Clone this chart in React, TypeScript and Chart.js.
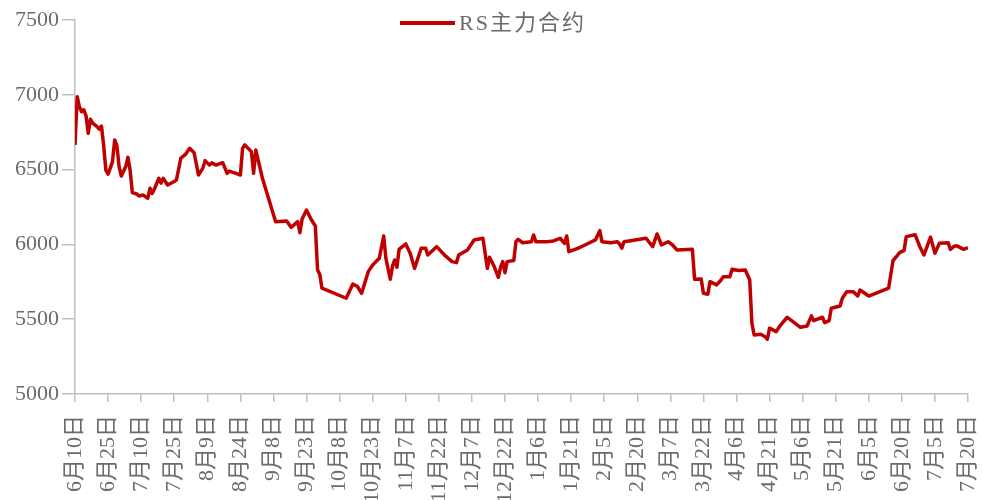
import React, { useEffect, useRef } from "react";
import { Chart, registerables } from "chart.js";

Chart.register(...registerables);

const seriesName = "RS主力合约";

const dates: string[] = [
  "2022-06-10", "2022-06-11", "2022-06-12", "2022-06-13", "2022-06-14", "2022-06-15", "2022-06-16", "2022-06-17", "2022-06-18",
  "2022-06-20", "2022-06-21", "2022-06-22", "2022-06-23", "2022-06-24", "2022-06-25", "2022-06-26", "2022-06-27", "2022-06-28",
  "2022-06-29", "2022-06-30", "2022-07-01", "2022-07-03", "2022-07-04", "2022-07-05", "2022-07-06", "2022-07-08", "2022-07-09",
  "2022-07-11", "2022-07-13", "2022-07-14", "2022-07-15", "2022-07-16", "2022-07-18", "2022-07-19", "2022-07-20", "2022-07-22",
  "2022-07-25", "2022-07-26", "2022-07-28", "2022-07-30", "2022-08-01", "2022-08-03", "2022-08-05", "2022-08-07", "2022-08-08",
  "2022-08-10", "2022-08-11", "2022-08-13", "2022-08-16", "2022-08-18", "2022-08-19", "2022-08-22", "2022-08-24", "2022-08-25",
  "2022-08-26", "2022-08-29", "2022-08-30", "2022-08-31", "2022-09-03", "2022-09-09", "2022-09-14", "2022-09-16", "2022-09-19",
  "2022-09-20", "2022-09-21", "2022-09-23", "2022-09-25", "2022-09-27", "2022-09-28", "2022-09-29", "2022-09-30", "2022-10-11",
  "2022-10-14", "2022-10-16", "2022-10-18", "2022-10-21", "2022-10-23", "2022-10-26", "2022-10-28", "2022-10-29", "2022-10-31",
  "2022-11-01", "2022-11-02", "2022-11-03", "2022-11-04", "2022-11-07", "2022-11-09", "2022-11-11", "2022-11-14", "2022-11-16",
  "2022-11-17", "2022-11-21", "2022-11-25", "2022-11-28", "2022-11-30", "2022-12-01", "2022-12-05", "2022-12-08", "2022-12-12",
  "2022-12-14", "2022-12-15", "2022-12-17", "2022-12-19", "2022-12-20", "2022-12-21", "2022-12-22", "2022-12-23", "2022-12-26",
  "2022-12-27", "2022-12-28", "2022-12-30", "2023-01-03", "2023-01-04", "2023-01-05", "2023-01-10", "2023-01-13", "2023-01-16",
  "2023-01-18", "2023-01-19", "2023-01-20", "2023-01-24", "2023-01-28", "2023-02-01", "2023-02-03", "2023-02-04", "2023-02-08",
  "2023-02-11", "2023-02-12", "2023-02-13", "2023-02-14", "2023-02-17", "2023-02-19", "2023-02-24", "2023-02-27", "2023-03-01",
  "2023-03-03", "2023-03-06", "2023-03-08", "2023-03-10", "2023-03-17", "2023-03-18", "2023-03-21", "2023-03-22", "2023-03-24",
  "2023-03-25", "2023-03-28", "2023-03-30", "2023-03-31", "2023-04-03", "2023-04-04", "2023-04-07", "2023-04-10", "2023-04-12",
  "2023-04-13", "2023-04-14", "2023-04-17", "2023-04-19", "2023-04-20", "2023-04-21", "2023-04-24", "2023-04-26", "2023-04-29",
  "2023-05-01", "2023-05-05", "2023-05-08", "2023-05-10", "2023-05-11", "2023-05-15", "2023-05-16", "2023-05-18", "2023-05-19",
  "2023-05-23", "2023-05-24", "2023-05-26", "2023-05-29", "2023-05-31", "2023-06-01", "2023-06-05", "2023-06-14", "2023-06-16",
  "2023-06-19", "2023-06-21", "2023-06-22", "2023-06-26", "2023-06-28", "2023-06-30", "2023-07-03", "2023-07-05", "2023-07-07",
  "2023-07-11", "2023-07-12", "2023-07-14", "2023-07-15", "2023-07-18", "2023-07-20",
];

const prices: number[] = [
  6665, 6987, 6920, 6887, 6900, 6860, 6743, 6836, 6810,
  6787, 6770, 6791, 6660, 6497, 6470, 6510, 6553, 6698,
  6660, 6520, 6457, 6520, 6582, 6497, 6346, 6337, 6324,
  6330, 6308, 6375, 6340, 6370, 6442, 6410, 6442, 6397,
  6420, 6431, 6576, 6600, 6642, 6613, 6464, 6510, 6560,
  6530, 6545, 6530, 6546, 6475, 6490, 6475, 6464, 6642,
  6665, 6620, 6475, 6631, 6442, 6152, 6157, 6114, 6152,
  6078, 6170, 6230, 6170, 6123, 5829, 5800, 5707, 5640,
  5735, 5720, 5673, 5818, 5862, 5907, 6056, 5907, 5767,
  5856, 5896, 5847, 5967, 6003, 5941, 5840, 5974, 5974,
  5929, 5985, 5923, 5885, 5878, 5929, 5963, 6030, 6041,
  5840, 5914, 5856, 5780, 5847, 5885, 5811, 5885, 5892,
  6020, 6034, 6011, 6018, 6063, 6018, 6018, 6023, 6041,
  6007, 6056, 5951, 5974, 6001, 6030, 6092, 6018, 6011,
  6018, 6003, 5974, 6018, 6025, 6030, 6041, 5985, 6070,
  5996, 6018, 5996, 5963, 5967, 5767, 5769, 5673, 5667,
  5751, 5729, 5762, 5784, 5784, 5834, 5825, 5829, 5762,
  5473, 5395, 5399, 5383, 5366, 5440, 5417, 5461, 5513,
  5490, 5446, 5455, 5522, 5490, 5513, 5477, 5490, 5573,
  5588, 5640, 5684, 5684, 5655, 5695, 5655, 5707, 5892,
  5945, 5960, 6052, 6065, 5990, 5929, 6048, 5941, 6007,
  6011, 5967, 5990, 5990, 5967, 5978,
];

const tickLabels: string[] = [
  "6月10日", "6月25日", "7月10日", "7月25日", "8月9日", "8月24日", "9月8日",
  "9月23日", "10月8日", "10月23日", "11月7日", "11月22日", "12月7日", "12月22日",
  "1月6日", "1月21日", "2月5日", "2月20日", "3月7日", "3月22日", "4月6日",
  "4月21日", "5月6日", "5月21日", "6月5日", "6月20日", "7月5日", "7月20日",
];

const yTicks: number[] = [5000, 5500, 6000, 6500, 7000, 7500];

const DAY = 86400000;
const FONT = "'Liberation Serif', 'Times New Roman', 'Noto Sans CJK SC', serif";
const TEXT_COLOR = "#6b6b6b";
const AXIS_COLOR = "#BFBFBF";
const LINE_COLOR = "#C00000";

const legendPlugin = {
  id: "topLegend",
  afterDraw(chart: any) {
    const ctx = chart.ctx;
    const label = chart.data.datasets[0].label;
    ctx.save();
    ctx.font = `22px ${FONT}`;
    try {
      (ctx as any).letterSpacing = "2px";
    } catch (e) {}
    const x0 = 400;
    const lineW = 55;
    const gap = 4;
    const y = 23;
    ctx.strokeStyle = LINE_COLOR;
    ctx.lineWidth = 4;
    ctx.beginPath();
    ctx.moveTo(x0, y);
    ctx.lineTo(x0 + lineW, y);
    ctx.stroke();
    ctx.fillStyle = TEXT_COLOR;
    ctx.textBaseline = "middle";
    ctx.textAlign = "left";
    ctx.fillText(label, x0 + lineW + gap, y + 1);
    ctx.restore();
  },
};

export default function App() {
  const ref = useRef<HTMLCanvasElement | null>(null);

  useEffect(() => {
    if (!ref.current) return;
    const t0 = Date.parse(dates[0]);
    const points = dates.map((d, i) => ({
      x: Math.round((Date.parse(d) - t0) / DAY),
      y: prices[i],
    }));
    const maxDay = (tickLabels.length - 1) * 15;

    const chart = new Chart(ref.current, {
      type: "line",
      data: {
        datasets: [
          {
            label: seriesName,
            data: points,
            borderColor: LINE_COLOR,
            backgroundColor: LINE_COLOR,
            borderWidth: 3.5,
            pointRadius: 0,
            tension: 0,
            borderJoinStyle: "round",
          },
        ],
      },
      options: {
        animation: false,
        responsive: false,
        maintainAspectRatio: false,
        layout: { padding: { top: 20, right: 14, left: 0, bottom: 0 } },
        plugins: {
          legend: { display: false },
          tooltip: { enabled: false },
        },
        scales: {
          x: {
            type: "linear",
            min: 0,
            max: maxDay,
            afterFit: (scale: any) => {
              scale.height = 106;
              scale.paddingRight = 0;
              scale.paddingLeft = 0;
            },
            afterBuildTicks: (scale: any) => {
              scale.ticks = tickLabels.map((_, i) => ({ value: i * 15 }));
            },
            ticks: {
              autoSkip: false,
              minRotation: 90,
              maxRotation: 90,
              padding: 13,
              color: TEXT_COLOR,
              font: { family: FONT, size: 22 },
              callback: (v: any) => tickLabels[Math.round(Number(v) / 15)],
            },
            grid: {
              drawOnChartArea: false,
              drawTicks: true,
              tickLength: 8,
              color: AXIS_COLOR,
              lineWidth: 1.5,
            },
            border: { display: true, color: AXIS_COLOR, width: 1.5 },
          },
          y: {
            min: yTicks[0],
            max: yTicks[yTicks.length - 1],
            afterFit: (scale: any) => {
              scale.width = 75;
              scale.paddingTop = 0;
              scale.paddingBottom = 0;
            },
            afterBuildTicks: (scale: any) => {
              scale.ticks = yTicks.map((v) => ({ value: v }));
            },
            ticks: {
              padding: 3,
              color: TEXT_COLOR,
              font: { family: FONT, size: 22 },
              callback: (v: any) => String(v),
            },
            grid: {
              drawOnChartArea: false,
              drawTicks: true,
              tickLength: 13,
              color: AXIS_COLOR,
              lineWidth: 1.5,
            },
            border: { display: true, color: AXIS_COLOR, width: 1.5 },
          },
        },
      },
      plugins: [legendPlugin],
    });
    return () => chart.destroy();
  }, []);

  return (
    <div style={{ position: "fixed", left: 0, top: 0, width: 982, height: 500, background: "#fff" }}>
      <canvas ref={ref} width={982} height={500} style={{ width: 982, height: 500, display: "block" }} />
    </div>
  );
}
